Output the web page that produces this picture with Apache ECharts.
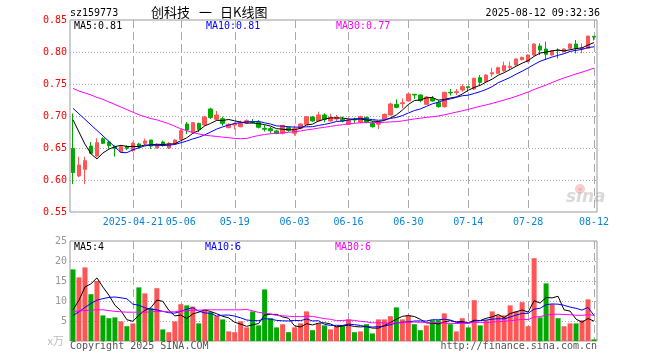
<!DOCTYPE html>
<html><head><meta charset="utf-8">
<script src="https://cdn.jsdelivr.net/npm/echarts@6/dist/echarts.min.js"></script>
<style>html,body{margin:0;padding:0;background:#fff}#c{width:660px;height:360px}</style>
</head><body><div id="c"></div>
<script>
const dates = [
'2025-04-07','2025-04-08','2025-04-09','2025-04-10','2025-04-11','2025-04-14','2025-04-15','2025-04-16','2025-04-17','2025-04-18',
'2025-04-21','2025-04-22','2025-04-23','2025-04-24','2025-04-25','2025-04-28','2025-04-29','2025-04-30',
'2025-05-06','2025-05-07','2025-05-08','2025-05-09','2025-05-12','2025-05-13','2025-05-14','2025-05-15','2025-05-16',
'2025-05-19','2025-05-20','2025-05-21','2025-05-22','2025-05-23','2025-05-26','2025-05-27','2025-05-28','2025-05-29','2025-05-30',
'2025-06-03','2025-06-04','2025-06-05','2025-06-06','2025-06-09','2025-06-10','2025-06-11','2025-06-12','2025-06-13',
'2025-06-16','2025-06-17','2025-06-18','2025-06-19','2025-06-20','2025-06-23','2025-06-24','2025-06-25','2025-06-26','2025-06-27',
'2025-06-30','2025-07-01','2025-07-02','2025-07-03','2025-07-04','2025-07-07','2025-07-08','2025-07-09','2025-07-10','2025-07-11',
'2025-07-14','2025-07-15','2025-07-16','2025-07-17','2025-07-18','2025-07-21','2025-07-22','2025-07-23','2025-07-24','2025-07-25',
'2025-07-28','2025-07-29','2025-07-30','2025-07-31','2025-08-01','2025-08-04','2025-08-05','2025-08-06','2025-08-07','2025-08-08',
'2025-08-11','2025-08-12'];

const tickDates = ['2025-04-21','2025-05-06','2025-05-19','2025-06-03','2025-06-16','2025-06-30','2025-07-14','2025-07-28','2025-08-12'];
const priceGridValues = [0.60, 0.65, 0.70, 0.75, 0.80];
const volGridValues = [5, 10, 15, 20];

const opens = [
.6495,.6063,.6167,.6531,.6375,.6646,.6594,.6521,.6443,.6521,
.6458,.6563,.6573,.6625,.6500,.6594,.6500,.6563,.6635,.6875,
.6740,.6885,.6859,.7109,.6948,.6958,.6818,.6860,.6833,.6890,
.6906,.6896,.6807,.6802,.6766,.6730,.6818,.6730,.6807,.6869,
.6984,.6922,.7016,.6922,.6953,.6948,.6870,.6948,.6901,.6979,
.6885,.6870,.6953,.7016,.7182,.7193,.7234,.7339,.7328,.7182,
.7276,.7208,.7146,.7370,.7365,.7406,.7458,.7422,.7599,.7536,
.7656,.7667,.7703,.7760,.7797,.7880,.7849,.7953,.8094,.8047,
.7953,.8031,.8005,.8057,.8125,.8047,.8057,.8245];
const closes = [
.6115,.6234,.6302,.6417,.6583,.6573,.6536,.6495,.6521,.6495,
.6573,.6531,.6609,.6531,.6552,.6547,.6573,.6625,.6771,.6781,
.6896,.6792,.6984,.6974,.7016,.6885,.6870,.6875,.6885,.6927,
.6896,.6823,.6792,.6770,.6730,.6854,.6776,.6802,.6875,.6989,
.6922,.7016,.6948,.6979,.6979,.6922,.6938,.6938,.6990,.6901,
.6833,.6901,.7026,.7188,.7135,.7208,.7344,.7328,.7240,.7297,
.7234,.7146,.7370,.7360,.7380,.7458,.7443,.7589,.7526,.7640,
.7677,.7755,.7786,.7776,.7891,.7917,.7953,.8125,.8031,.7964,
.8016,.8021,.8047,.8125,.8057,.8068,.8250,.8234];
const lows = [
.5938,.6042,.5938,.6406,.6354,.6563,.6490,.6365,.6432,.6469,
.6443,.6490,.6547,.6485,.6495,.6521,.6485,.6557,.6625,.6720,
.6729,.6750,.6849,.6953,.6937,.6849,.6807,.6790,.6823,.6875,
.6885,.6807,.6755,.6729,.6714,.6714,.6755,.6693,.6792,.6859,
.6911,.6911,.6901,.6911,.6922,.6901,.6859,.6885,.6885,.6885,
.6818,.6797,.6938,.7005,.7120,.7120,.7224,.7266,.7214,.7172,
.7224,.7130,.7130,.7318,.7328,.7380,.7380,.7406,.7484,.7526,
.7615,.7656,.7693,.7719,.7786,.7870,.7839,.7943,.7953,.7875,
.7943,.7901,.7995,.8047,.7979,.7979,.8047,.8180];
const highs = [
.7040,.6365,.6365,.6594,.6651,.6667,.6615,.6542,.6542,.6542,
.6594,.6583,.6646,.6625,.6573,.6615,.6594,.6635,.6792,.6906,
.6906,.6896,.7000,.7130,.7078,.6990,.6885,.6900,.6927,.6948,
.6953,.6937,.6859,.6828,.6781,.6859,.6833,.6849,.6885,.7000,
.7000,.7068,.7042,.7036,.7016,.6990,.6964,.6974,.7005,.6990,
.6922,.6911,.7042,.7208,.7260,.7276,.7354,.7339,.7339,.7313,
.7313,.7250,.7380,.7422,.7422,.7495,.7458,.7599,.7640,.7651,
.7755,.7771,.7849,.7849,.7901,.7927,.7964,.8135,.8135,.8160,
.8031,.8057,.8057,.8135,.8188,.8135,.8250,.8250];

const ma5 = [
.694,.675,.656,.641,.6330,.6422,.6482,.6521,.6542,.6524,
.6524,.6523,.6546,.6548,.6559,.6554,.6562,.6566,.6614,.6659,
.6729,.6773,.6845,.6885,.6932,.6930,.6946,.6924,.6906,.6888,
.6891,.6881,.6865,.6842,.6802,.6794,.6784,.6786,.6807,.6859,
.6873,.6921,.6950,.6971,.6969,.6969,.6953,.6951,.6953,.6938,
.6920,.6913,.6930,.6970,.7017,.7092,.7180,.7241,.7251,.7283,
.7289,.7249,.7257,.7281,.7298,.7343,.7402,.7446,.7479,.7531,
.7575,.7637,.7677,.7727,.7777,.7825,.7865,.7932,.7983,.7998,
.8018,.8031,.8016,.8035,.8053,.8064,.8109,.8147];
const ma10 = [
.712,.7034,.6948,.6861,.6775,.6689,.6603,.6516,.643,.6427,
.6473,.6503,.6533,.6545,.6542,.6539,.6543,.6556,.6581,.6609,
.6642,.6668,.6705,.6750,.6796,.6830,.6859,.6884,.6896,.6910,
.6910,.6914,.6894,.6874,.6845,.6842,.6833,.6826,.6825,.6831,
.6833,.6853,.6868,.6889,.6914,.6921,.6937,.6951,.6962,.6953,
.6944,.6933,.6941,.6962,.6977,.7006,.7046,.7085,.7110,.7150,
.7190,.7215,.7249,.7266,.7291,.7316,.7326,.7352,.7380,.7415,
.7459,.7520,.7561,.7603,.7654,.7700,.7751,.7805,.7855,.7888,
.7921,.7948,.7974,.8009,.8026,.8041,.8070,.8081];
const ma30 = [
.743,.739,.736,.733,.729,.726,.722,.718,.714,.710,
.706,.702,.699,.696,.694,.691,.688,.684,.680,.677,
.674,.672,.670,.669,.668,.667,.666,.665,.6645,.6649,
.6675,.6695,.6711,.6723,.6728,.6737,.6745,.6755,.6767,.6783,
.6795,.6811,.6823,.6838,.6852,.6864,.6876,.6887,.6894,.6898,
.6896,.6900,.6901,.6908,.6912,.6923,.6939,.6954,.6966,.6978,
.6989,.7000,.7019,.7039,.7061,.7081,.7103,.7129,.7151,.7173,
.7198,.7222,.7250,.7277,.7307,.7341,.7374,.7414,.7449,.7484,
.7523,.7561,.7595,.7626,.7657,.7685,.7716,.7746];

const volumes = [
17.9,15.9,18.4,11.7,15.0,6.4,5.7,5.9,4.9,3.7,
4.4,13.4,11.9,8.2,13.2,2.9,2.2,4.9,9.2,8.9,
8.6,4.4,7.7,7.2,6.2,5.4,2.4,2.2,4.9,3.4,
7.4,3.9,12.9,5.7,3.4,4.2,2.2,3.4,4.4,7.4,
2.7,4.4,3.9,2.9,3.7,3.9,5.4,2.2,2.4,4.2,
1.9,5.4,5.4,6.2,8.4,5.4,6.4,4.2,2.7,3.9,
5.2,5.2,6.9,4.2,2.4,5.7,3.4,10.2,3.9,5.2,
7.4,6.4,6.4,8.9,7.4,9.7,3.7,20.7,5.9,14.4,
9.2,5.7,3.7,4.4,4.4,5.2,10.4,0.4];
const volMa5 = [
7.8,10.2,13.5,14.3,15.78,13.48,11.44,8.94,7.58,5.32,
4.92,6.46,7.66,8.32,10.22,9.92,7.68,6.28,6.48,5.62,
6.76,7.2,7.76,7.36,6.82,6.18,5.78,4.68,4.22,3.66,
4.06,4.36,6.5,6.66,6.66,6.02,5.68,3.78,3.52,4.32,
4.02,4.46,4.56,4.26,3.52,3.76,3.96,3.62,3.52,3.62,
3.22,3.22,3.86,4.62,5.46,6.16,6.36,6.12,5.42,4.52,
4.48,4.24,4.78,5.08,4.78,4.88,4.52,5.18,5.12,5.68,
6.02,6.62,5.86,6.86,7.3,7.76,7.22,10.08,9.48,10.88,
10.78,11.18,7.78,7.48,5.48,4.68,5.62,4.96];
const volMa10 = [
6.4,7.3,8.4,9.4,10.2,10.6,10.9,11.0,10.8,10.55,
9.2,8.95,8.3,7.95,7.77,7.42,7.07,6.97,7.4,7.92,
8.34,7.44,7.02,6.92,6.22,6.47,6.49,6.22,5.79,5.24,
5.12,5.07,5.59,5.44,5.16,5.04,5.02,5.14,5.09,5.49,
5.02,5.07,4.17,3.89,3.92,3.89,4.21,4.09,3.89,3.57,
3.49,3.59,3.74,4.07,4.54,4.69,4.79,4.99,5.02,4.99,
5.32,5.3,5.45,5.25,4.65,4.68,4.38,4.98,5.1,5.23,
5.45,5.57,5.52,5.99,6.49,6.89,6.92,7.97,8.17,9.09,
9.27,9.2,8.93,8.48,8.18,7.73,8.4,6.37];
const volMa30 = [
7.4,7.5,7.6,7.7,7.8,7.8,7.6,7.4,7.3,7.2,
7.2,7.2,7.2,7.3,7.4,7.4,7.3,7.3,7.5,7.6,
7.7,7.7,7.8,7.8,7.8,7.8,7.8,7.8,7.8,7.90,
7.55,7.15,6.97,6.77,6.38,6.31,6.19,6.11,6.09,6.22,
6.16,5.86,5.59,5.42,5.10,5.13,5.24,5.15,4.92,4.77,
4.54,4.58,4.50,4.47,4.54,4.54,4.67,4.74,4.67,4.68,
4.61,4.65,4.45,4.40,4.37,4.42,4.46,4.69,4.67,4.60,
4.75,4.82,4.90,5.10,5.23,5.42,5.36,5.98,6.10,6.44,
6.68,6.69,6.63,6.57,6.44,6.43,6.57,6.44];

const priceTicks = {min: 0.55, max: 0.85, interval: 0.05};
const volTicks = {min: 0, max: 25, interval: 5};

const RED = '#ff5555', GREEN = '#00a800';
const MONO = '"DejaVu Sans Mono", monospace';
const CJK = '"Noto Sans CJK SC", sans-serif';

const ohlc = dates.map((d, i) => [opens[i], closes[i], lows[i], highs[i]]);
const volData = volumes.map((v, i) => ({value: v, itemStyle: {color: closes[i] >= opens[i] ? RED : GREEN}}));

const isTick = (idx, val) => tickDates.indexOf(val) >= 0;

function txt(x, y, s, fill, font, align) {
  return {type: 'text', x: x, y: y, silent: true, z: 100,
    style: {text: s, fill: fill, font: font, align: align || 'left', verticalAlign: 'middle'}};
}
function line(name, data, color, xi) {
  return {type: 'line', name: name, data: data, xAxisIndex: xi, yAxisIndex: xi, showSymbol: false,
    lineStyle: {color: color, width: 1}, itemStyle: {color: color}, z: 5};
}

const chart = echarts.init(document.getElementById('c'));
chart.setOption({
  animation: false,
  backgroundColor: '#fff',
  grid: [
    {left: 70, right: 63, top: 20, height: 192, show: true, borderColor: '#999', borderWidth: 1, outerBoundsMode: 'none'},
    {left: 70, right: 63, top: 241, height: 100, show: true, borderColor: '#999', borderWidth: 1, outerBoundsMode: 'none'}
  ],
  xAxis: [
    {type: 'category', gridIndex: 0, data: dates,
      axisLine: {show: false}, axisTick: {show: false},
      axisLabel: {interval: isTick, margin: 5, color: '#0a84d6', fontFamily: MONO, fontSize: 10,
        formatter: v => v === tickDates[0] ? v : v.slice(5)},
      splitLine: {show: false}},
    {type: 'category', gridIndex: 1, data: dates,
      axisLine: {show: false}, axisTick: {show: false}, axisLabel: {show: false}, splitLine: {show: false}}
  ],
  yAxis: [
    {type: 'value', gridIndex: 0, min: priceTicks.min, max: priceTicks.max, interval: priceTicks.interval,
      axisLine: {show: false}, axisTick: {show: false},
      axisLabel: {margin: 3, color: '#ff0000', fontFamily: MONO, fontSize: 10, formatter: v => v.toFixed(2)},
      splitLine: {show: false}},
    {type: 'value', gridIndex: 1, min: volTicks.min, max: volTicks.max, interval: volTicks.interval,
      axisLine: {show: false}, axisTick: {show: false},
      axisLabel: {margin: 3, color: '#999', fontFamily: MONO, fontSize: 10, formatter: v => v === 0 ? '' : String(v)},
      splitLine: {show: false}}
  ],
  series: [
    {type: 'candlestick', xAxisIndex: 0, yAxisIndex: 0, data: ohlc, barWidth: 4, z: 3,
      itemStyle: {color: RED, color0: GREEN, borderColor: RED, borderColor0: GREEN, borderWidth: 1}},
    line('MA5', ma5, '#000000', 0),
    line('MA10', ma10, '#0000ff', 0),
    line('MA30', ma30, '#ff00ff', 0),
    {type: 'bar', xAxisIndex: 1, yAxisIndex: 1, data: volData, barWidth: 5, z: 3},
    line('VMA5', volMa5, '#000000', 1),
    line('VMA10', volMa10, '#0000ff', 1),
    line('VMA30', volMa30, '#ff00ff', 1)
  ]
});

// grid lines positioned through the chart's own axes (convertToPixel)
const gridEls = [];
function vLines(axisIdx, lo, hi) {
  const yTop = chart.convertToPixel({yAxisIndex: axisIdx}, hi);
  const yBot = chart.convertToPixel({yAxisIndex: axisIdx}, lo);
  tickDates.forEach(d => {
    const x = Math.round(chart.convertToPixel({xAxisIndex: axisIdx}, d)) + 0.5;
    gridEls.push({type: 'line', silent: true, z: 2,
      shape: {x1: x, y1: yTop, x2: x, y2: yBot},
      style: {stroke: '#aaa', lineWidth: 1, lineDash: [8, 4]}});
  });
}
function hLines(axisIdx, values) {
  const xL = chart.convertToPixel({xAxisIndex: axisIdx}, dates[0]) - 3;
  const xR = chart.convertToPixel({xAxisIndex: axisIdx}, dates[dates.length - 1]) + 3;
  values.forEach(v => {
    const y = Math.round(chart.convertToPixel({yAxisIndex: axisIdx}, v)) + 0.5;
    gridEls.push({type: 'line', silent: true, z: 2,
      shape: {x1: xL, y1: y, x2: xR, y2: y},
      style: {stroke: '#aaa', lineWidth: 1, lineDash: [1, 2]}});
  });
}
vLines(0, priceTicks.min, priceTicks.max);
vLines(1, volTicks.min, volTicks.max);
hLines(0, priceGridValues);
hLines(1, volGridValues);

chart.setOption({
  graphic: {elements: gridEls.concat([
    txt(70, 13, 'sz159773', '#000', '10px ' + MONO),
    txt(151, 12.5, '创科技', '#000', '13px ' + CJK),
    txt(199, 12.5, '一', '#000', '13px ' + CJK),
    txt(220, 12.5, '日K线图', '#000', '13px ' + CJK),
    txt(600, 13, '2025-08-12 09:32:36', '#000', '10px ' + MONO, 'right'),
    txt(74, 26, 'MA5:0.81', '#000', '10px ' + MONO),
    txt(206, 26, 'MA10:0.81', '#0000ff', '10px ' + MONO),
    txt(336, 26, 'MA30:0.77', '#ff00ff', '10px ' + MONO),
    txt(74, 247, 'MA5:4', '#000', '10px ' + MONO),
    txt(205, 247, 'MA10:6', '#0000ff', '10px ' + MONO),
    txt(335, 247, 'MA30:6', '#ff00ff', '10px ' + MONO),
    txt(70, 346, 'Copyright 2025 SINA.COM', '#555', '10px ' + MONO),
    txt(597, 346, 'http://finance.sina.com.cn', '#555', '10px ' + MONO, 'right'),
    txt(64, 341, 'x万', '#bbb', '11px ' + CJK, 'right'),
    {type: 'circle', silent: true, z: 1, shape: {cx: 580, cy: 189, r: 5}, style: {fill: 'rgba(240,110,110,0.35)'}},
    txt(566, 198, 'sina', 'rgba(170,170,170,0.45)', 'italic bold 17px "DejaVu Sans", sans-serif')
  ])}
});
</script>
</body></html>
